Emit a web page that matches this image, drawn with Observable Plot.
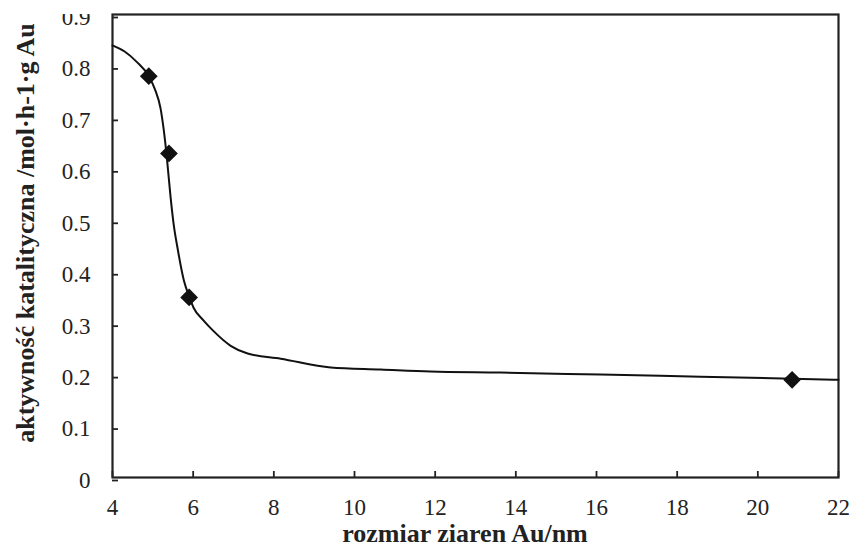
<!DOCTYPE html>
<html>
<head>
<meta charset="utf-8">
<script src="https://cdn.jsdelivr.net/npm/d3@7"></script>
<script src="https://cdn.jsdelivr.net/npm/@observablehq/plot@0.6"></script>
<style>
  html, body { margin: 0; padding: 0; background: #fff; }
  #chart { width: 853px; height: 547px; }
  #chart svg, #chart svg text { font-family: 'Liberation Serif', 'Times New Roman', serif !important; }
</style>
</head>
<body>
<div id="chart"></div>
<script>
// Measured points (diamonds)
const pointSize = [4.9, 5.4, 5.9, 20.85];
const pointActivity = [0.78, 0.63, 0.35, 0.19];

// Fitted trend curve
const curveSize = [4.0, 4.3, 4.6, 4.9, 5.05, 5.19, 5.27, 5.35, 5.44, 5.52, 5.61, 5.77, 5.9, 6.01, 6.26, 6.5, 6.93, 7.35, 8.17, 9.41, 10.65, 11.88, 13.62, 16.1, 18.58, 22.0];
const curveActivity = [0.84, 0.828, 0.808, 0.78, 0.755, 0.718, 0.676, 0.62, 0.545, 0.49, 0.447, 0.383, 0.352, 0.33, 0.305, 0.285, 0.256, 0.241, 0.231, 0.214, 0.210, 0.206, 0.204, 0.200, 0.196, 0.190];

const xTicks = [4, 6, 8, 10, 12, 14, 16, 18, 20, 22];
const yTicks = [0, 0.1, 0.2, 0.3, 0.4, 0.5, 0.6, 0.7, 0.8, 0.9];

const points = pointSize.map((x, i) => ({x, y: pointActivity[i]}));
const curve = curveSize.map((x, i) => ({x, y: curveActivity[i]}));

const font = "'Liberation Serif', 'Times New Roman', serif";

const chart = Plot.plot({
  width: 853,
  height: 547,
  marginLeft: 112,
  marginRight: 15,
  marginTop: 14,
  marginBottom: 70,
  style: {fontFamily: "Liberation Serif", fontSize: "23px", color: "#222", background: "#fff"},
  x: {domain: [4, 22]},
  y: {domain: [0, 0.9]},
  marks: [
    Plot.axisX({ticks: xTicks, tickSize: -6, tickPadding: 27, fontSize: 23, fontFamily: "Liberation Serif", label: null, tickFormat: d => String(d), strokeWidth: 1.8}),
    Plot.axisY({ticks: yTicks, tickSize: -6, tickPadding: 28, dy: 3, fontSize: 23, fontFamily: "Liberation Serif", label: null, tickFormat: d => d === 0 ? "0" : d3.format(".1f")(d), strokeWidth: 1.8}),
    Plot.frame({stroke: "#222", strokeWidth: 2.2}),
    Plot.line(curve, {x: "x", y: "y", curve: "monotone-x", stroke: "#111", strokeWidth: 2}),
    Plot.dot(points, {x: "x", y: "y", symbol: "diamond2", r: 8, fill: "#111", stroke: "none"})
  ]
});

const svg = d3.select(chart);
// The reference picture is cropped just at the top of the frame, cutting the top tick label
svg.append("rect")
  .attr("x", 45).attr("y", 0).attr("width", 60).attr("height", 14)
  .attr("fill", "#fff");

// Axis titles (bold serif)
svg.append("text")
  .attr("x", 465).attr("y", 542)
  .attr("text-anchor", "middle")
  .attr("font-family", font).attr("font-size", 26).attr("font-weight", "bold")
  .attr("fill", "#222")
  .text("rozmiar ziaren Au/nm");
svg.append("text")
  .attr("transform", "translate(34,233) rotate(-90)")
  .attr("text-anchor", "middle")
  .attr("font-family", font).attr("font-size", 26).attr("font-weight", "bold")
  .attr("fill", "#222")
  .text("aktywność katalityczna /mol·h-1·g Au");

document.getElementById("chart").appendChild(chart);
</script>
</body>
</html>
